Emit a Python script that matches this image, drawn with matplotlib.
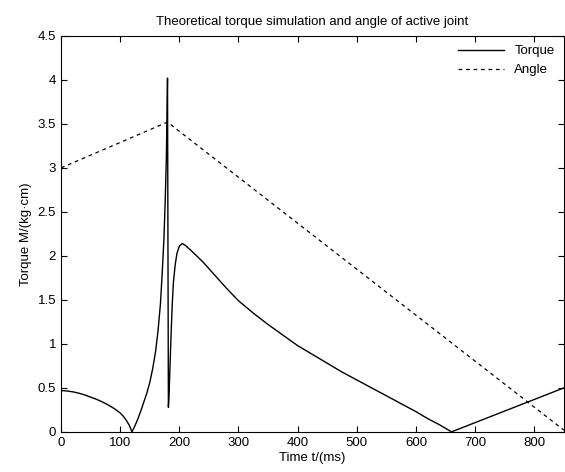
import matplotlib
matplotlib.use('Agg')
import matplotlib.pyplot as plt

# torque curve
torque_t = [0, 10, 20, 30, 40, 50, 60, 70, 80, 90, 100, 105, 110, 115, 120,
            125, 130, 135, 140, 145, 150, 155, 160, 164, 168, 171, 174, 176, 178, 179, 180,
            181.5, 182.5, 184, 186, 188, 190, 193, 196, 200, 205, 210, 220,
            240, 260, 280, 300, 325, 350, 375, 400, 425, 450, 475, 500,
            525, 550, 575, 600, 620, 640, 660,
            850]
torque_m = [0.47, 0.465, 0.455, 0.44, 0.42, 0.395, 0.37, 0.34, 0.305, 0.265, 0.215, 0.18, 0.135, 0.08, 0.0,
            0.07, 0.15, 0.24, 0.34, 0.44, 0.56, 0.72, 0.92, 1.15, 1.45, 1.8, 2.2, 2.6, 3.1, 3.5, 4.02,
            0.28, 0.4, 0.7, 1.1, 1.45, 1.7, 1.9, 2.03, 2.11, 2.14, 2.12, 2.06,
            1.93, 1.78, 1.63, 1.49, 1.35, 1.22, 1.1, 0.98, 0.88, 0.78, 0.68, 0.59,
            0.5, 0.41, 0.32, 0.23, 0.15, 0.08, 0.0,
            0.5]

# angle curve
angle_t = [0, 180, 850]
angle_v = [3.0, 3.52, 0.02]

plt.rcParams['font.family'] = ['Liberation Sans', 'DejaVu Sans']

fig = plt.figure(figsize=(5.65, 4.72), dpi=100)
ax = fig.add_axes([0.108, 0.085, 0.89, 0.839])

ax.plot(torque_t, torque_m, color='black', linewidth=1.0, label='Torque')
ax.plot(angle_t, angle_v, color='black', linewidth=0.9, linestyle=(0, (3, 3)), label='Angle')

ax.set_xlim(0, 850)
ax.set_ylim(0, 4.5)
ax.set_xticks(range(0, 900, 100))
ax.set_yticks([0, 0.5, 1, 1.5, 2, 2.5, 3, 3.5, 4, 4.5])
ax.set_yticklabels(['0', '0.5', '1', '1.5', '2', '2.5', '3', '3.5', '4', '4.5'])
ax.tick_params(direction='in', top=True, right=True, length=4, width=0.8, labelsize=9.5)

ax.set_title('Theoretical torque simulation and angle of active joint', fontsize=9.5, pad=8)
ax.set_xlabel('Time t/(ms)', fontsize=9.5, labelpad=2)
ax.set_ylabel('Torque M/(kg\u00b7cm)', fontsize=9.5)

ax.legend(loc='upper right', frameon=False, fontsize=9.5, handlelength=3.5, borderaxespad=0.3)

fig.savefig('out.png', dpi=100)
